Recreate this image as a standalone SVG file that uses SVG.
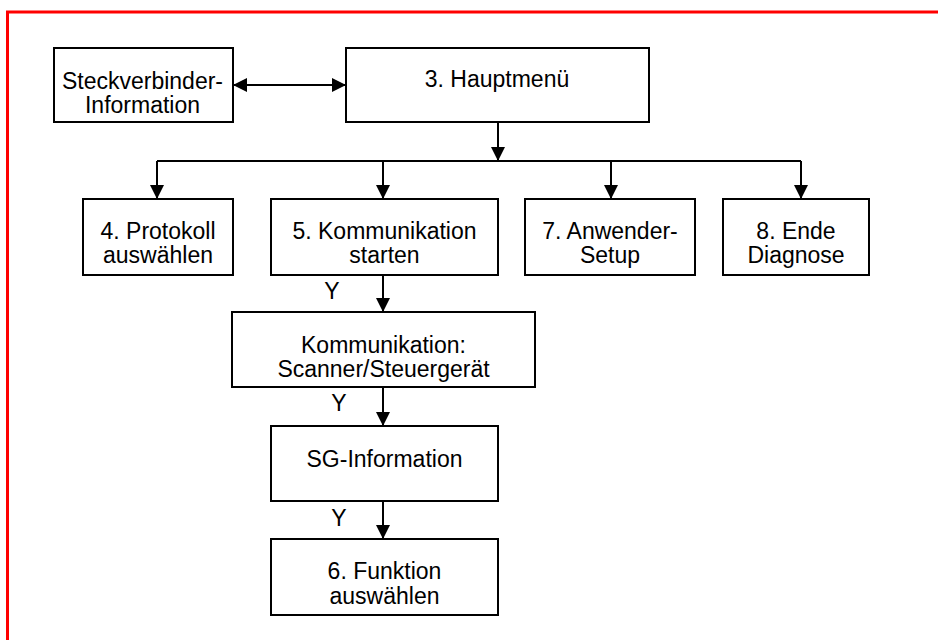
<svg xmlns="http://www.w3.org/2000/svg" width="938" height="640" viewBox="0 0 938 640">
<defs>
<style>
.box{fill:#fff;stroke:#000;stroke-width:2}
.t{font-family:"Liberation Sans",Arial,sans-serif;font-size:23px;fill:#000;text-anchor:middle}
.c{fill:none;stroke:#000;stroke-width:2}
</style>
<marker id="ah" markerUnits="userSpaceOnUse" markerWidth="14" markerHeight="14" viewBox="0 0 13 13" refX="13" refY="6.5" orient="auto-start-reverse">
<path d="M0,0 L13,6.5 L0,13 z" fill="#000"/>
</marker>
</defs>
<rect width="938" height="640" fill="#fff"/>
<path d="M7.5,640 V12 H938" fill="none" stroke="#f00" stroke-width="3"/>
<g id="connectors">
<path class="c" d="M233,85 H346" marker-start="url(#ah)" marker-end="url(#ah)"/>
<path class="c" d="M498,122 V161" marker-end="url(#ah)"/>
<path class="c" d="M157,161 H801"/>
<path class="c" d="M157,161 V199" marker-end="url(#ah)"/>
<path class="c" d="M383,161 V199" marker-end="url(#ah)"/>
<path class="c" d="M611,161 V199" marker-end="url(#ah)"/>
<path class="c" d="M801,161 V199" marker-end="url(#ah)"/>
<path class="c" d="M383,275 V312" marker-end="url(#ah)"/>
<path class="c" d="M383,387 V426" marker-end="url(#ah)"/>
<path class="c" d="M383,501 V539" marker-end="url(#ah)"/>
<text class="t" x="332" y="299">Y</text>
<text class="t" x="339" y="411">Y</text>
<text class="t" x="339" y="526">Y</text>
</g>
<g id="steckverbinder">
<rect class="box" x="54" y="48" width="179" height="74"/>
<text class="t" x="142.5" y="89">Steckverbinder-</text>
<text class="t" x="142.5" y="113">Information</text>
</g>
<g id="hauptmenu">
<rect class="box" x="346" y="48" width="303" height="74"/>
<text class="t" x="497" y="87">3. Hauptmenü</text>
</g>
<g id="protokoll">
<rect class="box" x="83" y="199" width="150" height="76"/>
<text class="t" x="158" y="239">4. Protokoll</text>
<text class="t" x="158" y="263">auswählen</text>
</g>
<g id="kommunikation-starten">
<rect class="box" x="271" y="199" width="227" height="76"/>
<text class="t" x="384.5" y="239">5. Kommunikation</text>
<text class="t" x="384.5" y="263">starten</text>
</g>
<g id="anwender-setup">
<rect class="box" x="525" y="199" width="170" height="76"/>
<text class="t" x="610" y="239">7. Anwender-</text>
<text class="t" x="610" y="263">Setup</text>
</g>
<g id="ende-diagnose">
<rect class="box" x="723" y="199" width="146" height="76"/>
<text class="t" x="796" y="239">8. Ende</text>
<text class="t" x="796" y="263">Diagnose</text>
</g>
<g id="kommunikation-scanner">
<rect class="box" x="232" y="312" width="303" height="75"/>
<text class="t" x="383.5" y="353">Kommunikation:</text>
<text class="t" x="383.5" y="377">Scanner/Steuergerät</text>
</g>
<g id="sg-information">
<rect class="box" x="271" y="426" width="227" height="75"/>
<text class="t" x="384.5" y="467">SG-Information</text>
</g>
<g id="funktion">
<rect class="box" x="271" y="539" width="227" height="76"/>
<text class="t" x="384.5" y="579">6. Funktion</text>
<text class="t" x="384.5" y="604">auswählen</text>
</g>
</svg>
